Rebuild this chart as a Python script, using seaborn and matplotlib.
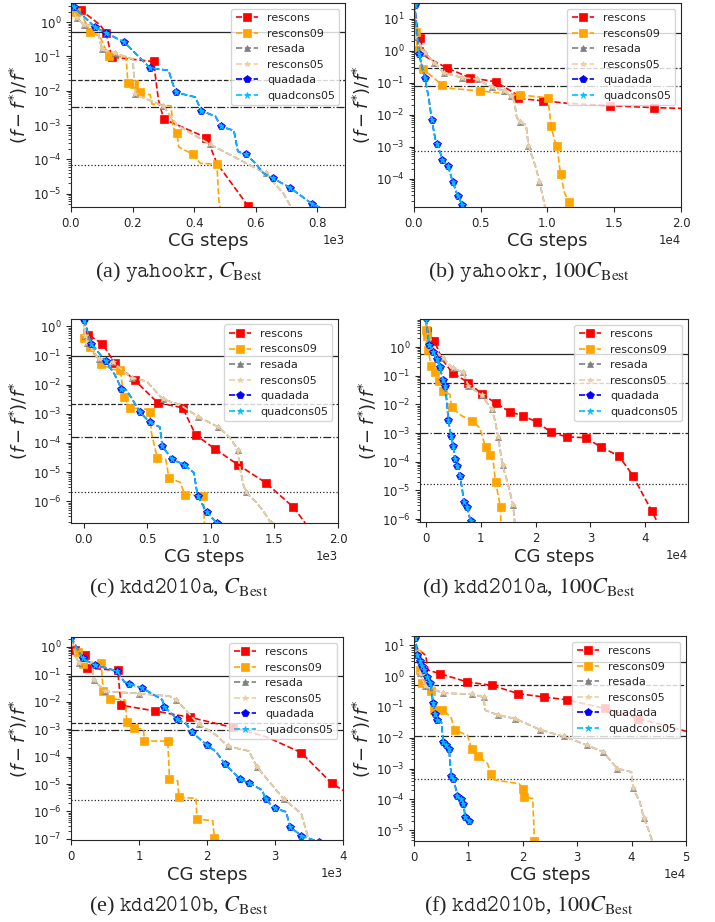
import matplotlib
matplotlib.use("Agg")
import matplotlib.pyplot as plt
from matplotlib.ticker import LogLocator, MultipleLocator, NullFormatter
import seaborn as sns

# ---------------- values -----------------------------------------------
# (a) yahookr, C_Best
A_RES_X = [2, 33, 94, 114, 132, 268, 284, 301, 440, 474, 575, 594]
A_RES_Y = [3.0, 2.2, 0.83, 0.48, 0.095, 0.071, 0.0054, 0.0015, 4.3e-4, 7.7e-5, 4.4e-6, 2.1e-6]
A_R09_X = [2, 16, 35, 62, 94, 122, 179, 185, 206, 225, 257, 263, 325, 331, 344, 350, 396, 420, 474, 480, 485]
A_R09_Y = [2.9, 2.0, 1.6, 0.53, 0.38, 0.104, 0.095, 0.0166, 0.0155, 0.0089, 0.0076, 0.0041, 0.0036,
           9.1e-4, 5.7e-4, 2.3e-4, 1.4e-4, 7.7e-5, 7.2e-5, 6.6e-6, 3.7e-6]
A_ADA_X = [0, 18, 43, 84, 100, 143, 201, 208, 299, 344, 450, 632, 691, 715]
A_ADA_Y = [3.2, 1.3, 0.84, 0.75, 0.163, 0.124, 0.083, 0.0079, 0.0036, 0.001, 2.8e-4, 3.9e-5, 1.0e-5, 4e-6]
A_QUAD_X = [0, 10, 78, 114, 173, 257, 317, 328, 341, 404, 423, 469, 487, 529, 542, 567, 594, 626, 657,
            711, 784, 816]
A_QUAD_Y = [3.4, 2.7, 0.71, 0.48, 0.26, 0.046, 0.039, 0.0186, 0.0089, 0.0065, 0.0026, 0.0018, 9.1e-4,
            6.9e-4, 1.7e-4, 1.4e-4, 8.6e-5, 3.9e-5, 2.8e-5, 1.5e-5, 5e-6, 3.7e-6]
A_HLINES = [0.53, 0.0203, 0.0034, 7.0e-5]

# (b) yahookr, 100 C_Best
B_RES_X = [50, 150, 426, 877, 2456, 4185, 6115, 7643, 7819, 9699, 11528, 14700, 17993, 20500]
B_RES_Y = [29, 8.9, 2.57, 0.65, 0.29, 0.143, 0.107, 0.044, 0.032, 0.027, 0.0226, 0.019, 0.0166, 0.0155]
B_R09_X = [50, 150, 251, 702, 2130, 2757, 4962, 7944, 10024, 10275, 10526, 10726, 10902, 10977, 11278,
           11604, 11679]
B_R09_Y = [26, 3.85, 1.03, 0.26, 0.084, 0.066, 0.055, 0.041, 0.034, 0.0043, 0.0016, 0.00102, 2.4e-4,
           1.4e-4, 3.6e-5, 1.8e-5, 1.2e-5]
B_ADA_X = [0, 75, 827, 1529, 2255, 3608, 4686, 5839, 6716, 7267, 7518, 7693, 7969, 8395, 8570, 8896,
           9147, 9398, 9649, 9825]
B_ADA_Y = [23, 2.7, 0.85, 0.42, 0.20, 0.143, 0.13, 0.071, 0.056, 0.037, 0.026, 0.0083, 0.0058, 0.0048,
           0.00107, 4.4e-4, 2.1e-4, 7.9e-5, 2.8e-5, 1.2e-5]
B_QUAD_X = [0, 50, 200, 376, 627, 827, 1128, 1328, 1629, 1754, 2130, 2556, 2907, 3283, 3634, 3759]
B_QUAD_Y = [31, 26, 5.5, 0.81, 0.28, 0.135, 0.029, 0.0069, 0.00146, 0.00122, 3.9e-4, 2.4e-4, 7.9e-5,
            2.8e-5, 1.5e-5, 1.2e-5]
B_HLINES = [3.67, 0.278, 0.080, 7.4e-4]

# (c) kdd2010a, C_Best
C_RES_X = [8, 34, 147, 244, 402, 581, 778, 880, 1033, 1212, 1432, 1650, 1742]
C_RES_Y = [1.78, 0.52, 0.248, 0.055, 0.014, 0.0024, 0.0016, 1.9e-4, 6.2e-5, 1.8e-5, 4.3e-6, 6.2e-7, 1.8e-7]
C_R09_X = [0, 3, 47, 139, 231, 289, 315, 363, 507, 520, 533, 578, 646, 670, 757, 796, 941, 949]
C_R09_Y = [1.7, 0.40, 0.19, 0.049, 0.033, 0.031, 0.0038, 0.0016, 0.0014, 0.00116, 2.2e-4, 3.1e-5,
           2.7e-5, 6.3e-6, 4.5e-6, 1.7e-6, 1.5e-6, 1.8e-7]
C_ADA_X = [0, 13, 29, 118, 231, 376, 494, 625, 757, 901, 1059, 1151, 1212, 1225, 1256, 1277, 1361,
           1414, 1472]
C_ADA_Y = [1.5, 0.45, 0.27, 0.076, 0.058, 0.017, 0.013, 0.0031, 0.00206, 7.8e-4, 3.5e-4, 1.5e-4,
           5.9e-5, 1.6e-5, 3.7e-6, 2.0e-6, 8.8e-7, 4.5e-7, 1.8e-7]
C_QUAD_X = [0, 60, 173, 244, 297, 336, 376, 442, 520, 599, 618, 696, 791, 867, 896, 967, 1046]
C_QUAD_Y = [1.7, 0.25, 0.063, 0.022, 0.0071, 0.0064, 0.0035, 0.00113, 5.1e-4, 3.5e-4, 7.7e-5, 2.7e-5,
            1.8e-5, 9.4e-6, 1.5e-6, 4.3e-7, 1.8e-7]
C_HLINES = [0.0986, 0.0022, 1.6e-4, 2.0e-6]

# (d) kdd2010a, 100 C_Best
D_RES_X = [0, 182, 1517, 2973, 4854, 7706, 10134, 12682, 15291, 17719, 20267, 22876, 25668, 29126,
           31978, 35194, 37743, 39260, 41202, 42294]
D_RES_Y = [9, 3.5, 1.66, 0.36, 0.124, 0.058, 0.0235, 0.0112, 0.0055, 0.004, 0.0024, 0.00105, 7.4e-4,
           6.9e-4, 3.2e-4, 1.6e-4, 3.3e-5, 9.3e-6, 1.9e-6, 7.3e-7]
D_R09_X = [0, 0, 121, 425, 910, 1638, 2366, 3155, 4369, 4672, 6493, 8435, 9830, 10862, 11651, 12258,
           12682, 13593, 13653]
D_R09_Y = [9, 3.8, 2.35, 0.81, 0.21, 0.14, 0.063, 0.030, 0.022, 0.0079, 0.004, 0.0027, 0.0015, 3.2e-4,
           1.7e-4, 1.0e-4, 2.0e-5, 2.6e-6, 7.3e-7]
D_ADA_X = [0, 425, 1335, 3155, 4854, 6796, 7706, 10134, 11954, 12561, 13168, 13957, 14988, 15898, 16202]
D_ADA_Y = [9.5, 1.8, 0.85, 0.41, 0.185, 0.13, 0.045, 0.021, 0.0069, 0.0029, 7.2e-4, 7.6e-5, 1.6e-5,
           3.0e-6, 7.3e-7]
D_QUAD_X = [0, 546, 1335, 1942, 2549, 3034, 3459, 3762, 4066, 4551, 4976, 5279, 5704, 6189, 6614, 6918,
            7524, 8131]
D_QUAD_Y = [10.3, 1.2, 0.65, 0.38, 0.2, 0.072, 0.043, 0.0145, 0.0029, 8.1e-4, 3.6e-4, 1.2e-4, 6.9e-5,
            3.3e-5, 1.05e-5, 4.1e-6, 2.6e-6, 8.3e-7]
D_HLINES = [0.57, 0.058, 9.8e-4, 1.7e-5]

# (e) kdd2010b, C_Best
E_RES_X = [0, 64, 211, 236, 368, 687, 736, 1241, 1752, 2380, 2871, 3386, 3837, 4050]
E_RES_Y = [2.0, 0.8, 0.50, 0.17, 0.16, 0.14, 0.0075, 0.0046, 0.0027, 0.00116, 5.3e-4, 1.4e-4, 1.05e-5, 5e-6]
E_R09_X = [0, 98, 172, 442, 476, 579, 800, 819, 923, 1065, 1080, 1423, 1448, 1570, 1585, 1840, 1850,
           2085, 2110, 2233]
E_R09_Y = [2.0, 0.66, 0.23, 0.25, 0.024, 0.013, 0.0114, 0.0019, 0.00112, 9.8e-4, 3.7e-4, 3.7e-4, 1.5e-5,
           1.3e-5, 3.3e-6, 3.0e-6, 5.3e-7, 4.6e-7, 1.05e-7, 9.1e-8]
E_ADA_X = [0, 74, 113, 309, 334, 466, 505, 1006, 1448, 1546, 1879, 2135, 2306, 2615, 2733, 3131, 3386,
           3484, 3533]
E_ADA_Y = [1.75, 0.43, 0.26, 0.29, 0.061, 0.030, 0.024, 0.020, 0.016, 0.012, 0.0015, 6.1e-4, 2.4e-4,
           1.6e-4, 4.3e-5, 2.8e-6, 8.5e-7, 1.2e-7, 8.7e-8]
E_QUAD_X = [0, 172, 353, 672, 785, 849, 1045, 1340, 1374, 1560, 1693, 1781, 2002, 2135, 2262, 2488, 2615,
            2812, 2861, 2998, 3165, 3219, 3386, 3641]
E_QUAD_Y = [2.3, 0.38, 0.215, 0.134, 0.053, 0.046, 0.032, 0.012, 0.0066, 0.0023, 0.0016, 7.6e-4, 2.6e-4,
            1.5e-4, 5.4e-5, 1.5e-5, 1.1e-5, 6.0e-6, 2.8e-6, 1.3e-6, 9.7e-7, 2.8e-7, 1.3e-7, 7.9e-8]
E_HLINES = [0.085, 0.0017, 9e-4, 2.6e-6]

# (f) kdd2010b, 100 C_Best
F_RES_X = [0, 615, 2153, 2583, 4797, 9717, 14330, 19188, 23862, 28167, 35055, 41205, 50500]
F_RES_Y = [21, 7.8, 4.7, 1.56, 1.2, 0.65, 0.50, 0.27, 0.21, 0.17, 0.089, 0.042, 0.0155]
F_R09_X = [0, 615, 1107, 1538, 2952, 3198, 3690, 5228, 6765, 7503, 9840, 10578, 11808, 13530, 14145,
           14637, 19373, 19988, 20295, 21833, 22140]
F_R09_Y = [18.6, 5.4, 1.55, 0.60, 0.39, 0.33, 0.081, 0.078, 0.048, 0.018, 0.012, 0.0043, 0.0025, 0.00145,
           6.6e-4, 4.4e-4, 3.2e-4, 2.1e-4, 1.2e-4, 1.07e-4, 4.5e-6]
F_ADA_X = [0, 492, 1107, 2030, 5412, 10578, 12792, 13100, 15498, 18573, 23247, 27552, 31857, 34748, 37392,
           39975, 40283, 41513, 42250, 43050, 43788]
F_ADA_Y = [21, 6.0, 1.26, 0.47, 0.28, 0.26, 0.21, 0.078, 0.054, 0.042, 0.018, 0.011, 0.0057, 0.0035,
           0.001, 7.8e-4, 2.3e-4, 8.3e-5, 2.5e-5, 1.1e-5, 4.5e-6]
F_QUAD_X = [0, 185, 615, 1046, 1415, 1845, 2460, 2952, 3260, 3506, 3875, 4305, 5043, 5228, 5412, 5843,
            6458, 6642, 6888, 7257, 7688, 7995, 8610, 9102, 9410, 9840, 10148]
F_QUAD_Y = [21, 17.7, 4.7, 3.2, 2.13, 1.55, 0.94, 0.6, 0.31, 0.13, 0.058, 0.039, 0.032, 0.0136, 0.0073,
            0.0057, 0.0042, 0.00145, 5.6e-4, 4.7e-4, 2.2e-4, 1.26e-4, 1.07e-4, 7.3e-5, 2.7e-5, 2.2e-5, 2.0e-5]
F_HLINES = [2.8, 0.53, 0.0118, 4.7e-4]

CAPTIONS = [r"(a) $\mathtt{yahookr}$, $C_{\mathrm{Best}}$",
            r"(b) $\mathtt{yahookr}$, $100C_{\mathrm{Best}}$",
            r"(c) $\mathtt{kdd2010a}$, $C_{\mathrm{Best}}$",
            r"(d) $\mathtt{kdd2010a}$, $100C_{\mathrm{Best}}$",
            r"(e) $\mathtt{kdd2010b}$, $C_{\mathrm{Best}}$",
            r"(f) $\mathtt{kdd2010b}$, $100C_{\mathrm{Best}}$"]

# which vertices carry a marker (index lists per curve)
MARKS = {
    "a": ([1, 3, 4, 5, 7, 8, 10], [1, 3, 5, 7, 8, 9, 14, 16, 18], [1, 2, 4, 5, 7, 8, 10, 11],
          [1, 2, 3, 4, 5, 8, 10, 12, 15, 18, 19, 20]),
    "b": ([2, 4, 5, 6, 8, 9, 11, 12], [1, 2, 3, 4, 6, 7, 8, 9, 11, 13, 15], [1, 2, 3, 4, 5, 6, 7, 8, 9, 12, 14, 17],
          [1, 3, 5, 7, 9, 10, 11, 12, 13, 14]),
    "c": (list(range(1, 12)), [1, 2, 3, 5, 6, 7, 9, 11, 13, 15, 16], [1, 2, 3, 4, 5, 7, 9, 10, 12, 15, 18],
          [0, 1, 2, 4, 7, 8, 10, 11, 12, 14, 15, 16]),
    "d": ([1, 2, 4, 5, 6, 7, 8, 9, 10, 11, 12, 13, 14, 15, 16, 18], [1, 2, 3, 4, 5, 6, 7, 9, 11, 13, 14, 16, 17],
          [1, 2, 3, 4, 5, 6, 7, 8, 10, 11, 13], [0, 1, 2, 3, 4, 5, 6, 8, 9, 10, 11, 12, 13, 15, 16, 17]),
    "e": ([1, 2, 3, 5, 6, 7, 8, 9, 11, 12], [1, 2, 3, 4, 5, 7, 8, 10, 11, 12, 14, 16, 18],
          [2, 4, 6, 7, 9, 10, 12, 14, 15], [0, 1, 2, 3, 5, 6, 8, 9, 11, 12, 14, 15, 16, 18, 19, 21, 22, 23]),
    "f": ([4, 5, 6, 7, 8, 9, 10, 11], [1, 2, 3, 5, 6, 7, 9, 11, 12, 14, 17, 18, 20],
          [1, 2, 3, 4, 5, 6, 8, 9, 10, 11, 12, 13, 14, 16, 18],
          [1, 2, 3, 4, 5, 6, 7, 9, 10, 11, 14, 15, 16, 18, 19, 21, 22, 23, 24, 26]),
}

# panel table built from the named arrays above
PANELS = [
    ("a", (A_RES_X, A_RES_Y), (A_R09_X, A_R09_Y), (A_ADA_X, A_ADA_Y), (A_QUAD_X, A_QUAD_Y), A_HLINES),
    ("b", (B_RES_X, B_RES_Y), (B_R09_X, B_R09_Y), (B_ADA_X, B_ADA_Y), (B_QUAD_X, B_QUAD_Y), B_HLINES),
    ("c", (C_RES_X, C_RES_Y), (C_R09_X, C_R09_Y), (C_ADA_X, C_ADA_Y), (C_QUAD_X, C_QUAD_Y), C_HLINES),
    ("d", (D_RES_X, D_RES_Y), (D_R09_X, D_R09_Y), (D_ADA_X, D_ADA_Y), (D_QUAD_X, D_QUAD_Y), D_HLINES),
    ("e", (E_RES_X, E_RES_Y), (E_R09_X, E_R09_Y), (E_ADA_X, E_ADA_Y), (E_QUAD_X, E_QUAD_Y), E_HLINES),
    ("f", (F_RES_X, F_RES_Y), (F_R09_X, F_R09_Y), (F_ADA_X, F_ADA_Y), (F_QUAD_X, F_QUAD_Y), F_HLINES),
]

# ---------------- layout / styling -----------------
AX_POS = {                       # [left, bottom, width, height] in figure fractions
    "a": [0.0993, 0.7755, 0.3832, 0.2213],
    "b": [0.5790, 0.7755, 0.3734, 0.2213],
    "c": [0.0993, 0.4328, 0.3734, 0.2213],
    "d": [0.5874, 0.4338, 0.3748, 0.2202],
    "e": [0.0993, 0.0889, 0.3804, 0.2202],
    "f": [0.5790, 0.0879, 0.3804, 0.2223],
}
XLIMS = {"a": (0, 890), "b": (0, 20000), "c": (-100, 2000), "d": (-1100, 47800), "e": (0, 4000), "f": (0, 50000)}
YLIMS = {"a": (4.1e-6, 3.6), "b": (1.3e-5, 31), "c": (1.8e-7, 1.78), "d": (7.9e-7, 9.5),
         "e": (9.1e-8, 2.3), "f": (4.5e-6, 20)}
XSTEP = {"a": 200, "b": 5000, "c": 500, "d": 10000, "e": 1000, "f": 10000}
XPOW = {"a": 3, "b": 4, "c": 3, "d": 4, "e": 3, "f": 4}       # fixed "1eN" offset on the x axis
CAP_XY = [(0.25, 0.705), (0.74, 0.705), (0.25, 0.362), (0.74, 0.362), (0.25, 0.0163), (0.74, 0.0163)]
HSTYLES = ["-", "--", "-.", ":"]

# name, color, marker, markersize, which curve
SERIES = [
    ("rescons", "red", "s", 5.5, 0),
    ("rescons09", "orange", "s", 5.5, 1),
    ("resada", "gray", "^", 5, 2),
    ("rescons05", "#edcfa5", "*", 4, 2),
    ("quadada", "blue", "p", 6, 3),
    ("quadcons05", "deepskyblue", "*", 4.5, 3),
]

sns.set_style("ticks")
plt.rcParams["xtick.labelsize"] = 8.5
plt.rcParams["ytick.labelsize"] = 8.5

fig = plt.figure(figsize=(7.15, 9.22), dpi=100)

for (key, res, r09, ada, quad, hl), cap, cxy in zip(PANELS, CAPTIONS, CAP_XY):
    ax = fig.add_axes(AX_POS[key])
    curves = [res, r09, ada, quad]
    for name, col, mk, ms, ci in SERIES:
        xs, ys = curves[ci]
        sns.lineplot(x=xs, y=ys, ax=ax, estimator=None, sort=False, color=col,
                     marker=mk, markersize=ms, markevery=MARKS[key][ci],
                     markeredgecolor=col, markeredgewidth=0.5,
                     linestyle="--", linewidth=1.2, label=name, legend=False)
    for yv, ls in zip(hl, HSTYLES):                  # reference levels
        ax.axhline(yv, color="0.15", lw=0.9, ls=ls, zorder=1)

    ax.set_yscale("log")
    ax.set_xlim(*XLIMS[key])
    ax.set_ylim(*YLIMS[key])
    ax.yaxis.set_major_locator(LogLocator(base=10, numticks=15))
    ax.yaxis.set_minor_locator(LogLocator(base=10, subs=range(2, 10), numticks=15))
    ax.yaxis.set_minor_formatter(NullFormatter())
    ax.xaxis.set_major_locator(MultipleLocator(XSTEP[key]))
    ax.ticklabel_format(axis="x", style="sci", scilimits=(XPOW[key], XPOW[key]))
    ax.xaxis.get_offset_text().set_fontsize(8.5)
    for s in ax.spines.values():
        s.set_color("0.15")

    ax.set_xlabel("CG steps", fontsize=13, labelpad=2)
    ax.set_ylabel(r"$(f - f^{*})/f^{*}$", fontsize=13, labelpad=2)
    ax.legend(loc="upper right", fontsize=8, framealpha=0.8)

    fig.text(cxy[0], cxy[1], cap, ha="center", va="center", fontsize=16,
             family="Liberation Serif", math_fontfamily="stix")

fig.savefig("out.png", dpi=100)
